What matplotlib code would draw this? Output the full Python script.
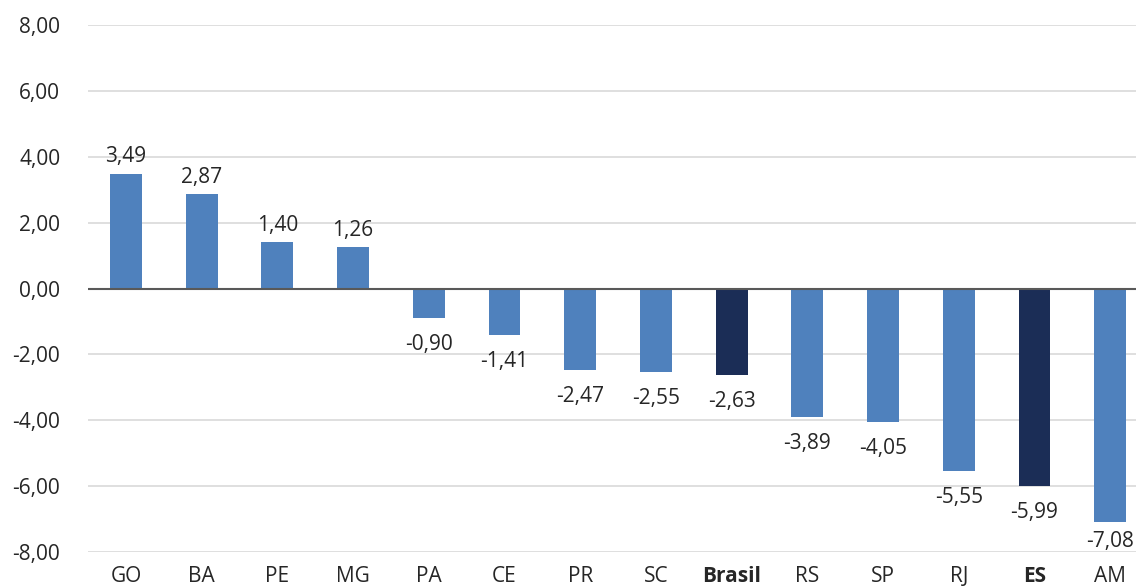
import matplotlib
matplotlib.use("Agg")
import matplotlib.pyplot as plt
import numpy as np

# Data
states = ['GO', 'BA', 'PE', 'MG', 'PA', 'CE', 'PR', 'SC', 'Brasil', 'RS', 'SP', 'RJ', 'ES', 'AM']
values = [3.49, 2.87, 1.40, 1.26, -0.90, -1.41, -2.47, -2.55, -2.63, -3.89, -4.05, -5.55, -5.99, -7.08]
highlight = ['Brasil', 'ES']

plt.rcParams['font.family'] = ['Open Sans', 'DejaVu Sans']

blue = '#4f81bd'
navy = '#1b2d56'
colors = [navy if s in highlight else blue for s in states]

fig = plt.figure(figsize=(11.36, 5.88), dpi=100)
ax = fig.add_axes([0.0775, 0.0612, 0.9225, 0.8963])

x = np.arange(len(states))
bars = ax.bar(x, values, width=0.42, color=colors, zorder=3)

ymin, ymax = -8, 8

# value labels, comma decimal
for xi, v in zip(x, values):
    txt = f'{v:.2f}'.replace('.', ',')
    if v >= 0:
        ax.annotate(txt, (xi, v), xytext=(0, 4.5), textcoords='offset points',
                    ha='center', va='bottom', fontsize=15, color='#262626')
    elif v - 1.0 < ymin:
        # label would fall outside the plot, keep it just above the bottom
        ax.annotate(txt, (xi, ymin), xytext=(0, 0), textcoords='offset points',
                    ha='center', va='bottom', fontsize=15, color='#262626')
    else:
        ax.annotate(txt, (xi, v), xytext=(0, -11.5), textcoords='offset points',
                    ha='center', va='top', fontsize=15, color='#262626')

ax.set_ylim(ymin, ymax)
ax.set_yticks(np.arange(-8, 9, 2))
ax.set_yticklabels([f'{t:.2f}'.replace('.', ',') for t in np.arange(-8, 9, 2)])
ax.set_xlim(-0.5, 13.34)
ax.set_xticks(x)
ax.set_xticklabels(states)
for lbl in ax.get_xticklabels():
    if lbl.get_text() in highlight:
        lbl.set_fontweight('bold')

ax.tick_params(axis='both', length=0, labelsize=15, colors='#262626')
ax.tick_params(axis='x', pad=10)
ax.tick_params(axis='y', pad=20)

ax.grid(axis='y', color='#d9d9d9', linewidth=1.2, zorder=0)
ax.axhline(0, color='#595959', linewidth=1.5, zorder=4)
for sp in ax.spines.values():
    sp.set_visible(False)

fig.savefig('out.png', dpi=100)
